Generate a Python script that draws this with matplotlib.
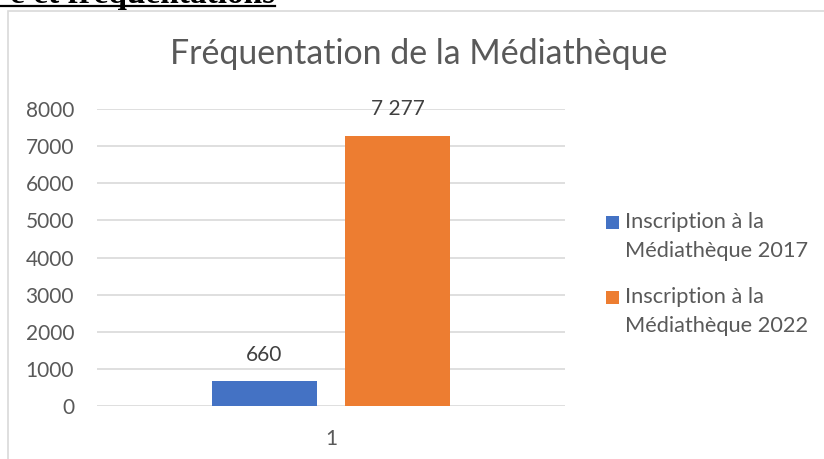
import numpy as np
import matplotlib.pyplot as plt
from matplotlib.patches import Rectangle
from matplotlib.lines import Line2D

plt.rcParams['font.family'] = ['Lato', 'DejaVu Sans']

categories = ['1']
series_names = ['Inscription à la\nMédiathèque 2017', 'Inscription à la\nMédiathèque 2022']
series_values = [660, 7277]
value_labels = ['660', '7 277']
colors = ['#4472C4', '#ED7D31']
yticks = [0, 1000, 2000, 3000, 4000, 5000, 6000, 7000, 8000]

grey = '#595959'
W, H = 824, 459

fig = plt.figure(figsize=(8.24, 4.59), dpi=100)

# cadre du graphique
fig.add_artist(Rectangle((8 / W, -0.1), 1.0, (H - 11) / H + 0.1,
                         transform=fig.transFigure, fill=False,
                         edgecolor='#d9d9d9', linewidth=1.2))

# titre de section coupé en haut de la page
fig.text(275 / W, 1 - 2.5 / H, 'e et fréquentations', fontsize=24, fontweight='bold',
         family='Liberation Serif', ha='right', va='baseline', color='black')
fig.add_artist(Line2D([0, 275 / W], [1 - 5.5 / H, 1 - 5.5 / H],
                      transform=fig.transFigure, color='black', linewidth=1.6))

ax = fig.add_axes([97 / W, 53 / H, 468 / W, 297 / H])

x = np.arange(len(categories)) + 1
width = 0.224
offsets = [-0.142, 0.142]
for i in range(len(series_values)):
    ax.bar(x + offsets[i], [series_values[i]], width, color=colors[i],
           label=series_names[i], zorder=3)
    ax.text(x[0] + offsets[i], series_values[i] + 720, value_labels[i],
            ha='center', va='center', fontsize=15, color='#404040')

ax.set_xlim(0.5, 1.5)
ax.set_ylim(0, 8000)
ax.set_yticks(yticks)
ax.set_xticks(x)
ax.set_xticklabels(categories)
ax.tick_params(axis='both', length=0, labelsize=15, colors=grey)
ax.tick_params(axis='y', pad=16.5)
ax.tick_params(axis='x', pad=16.5)
ax.yaxis.grid(True, color='#d9d9d9', linewidth=1.2, zorder=0)
for s in ax.spines.values():
    s.set_visible(False)

fig.text(419 / W, 1 - 54 / H, 'Fréquentation de la Médiathèque',
         ha='center', va='center', fontsize=24.4, color=grey)

# légende à droite (carré aligné sur la première ligne, comme Excel)
entry_y = [222, 297]
for i, name in enumerate(series_names):
    y0 = entry_y[i]
    fig.add_artist(Rectangle((606 / W, 1 - (y0 + 6.5) / H), 13 / W, 13 / H,
                             transform=fig.transFigure, facecolor=colors[i],
                             edgecolor='none'))
    for j, line in enumerate(name.split('\n')):
        fig.text(625 / W, 1 - (y0 + 29 * j) / H, line, ha='left', va='center',
                 fontsize=15.7, color=grey)

fig.savefig('out.png', dpi=100)
